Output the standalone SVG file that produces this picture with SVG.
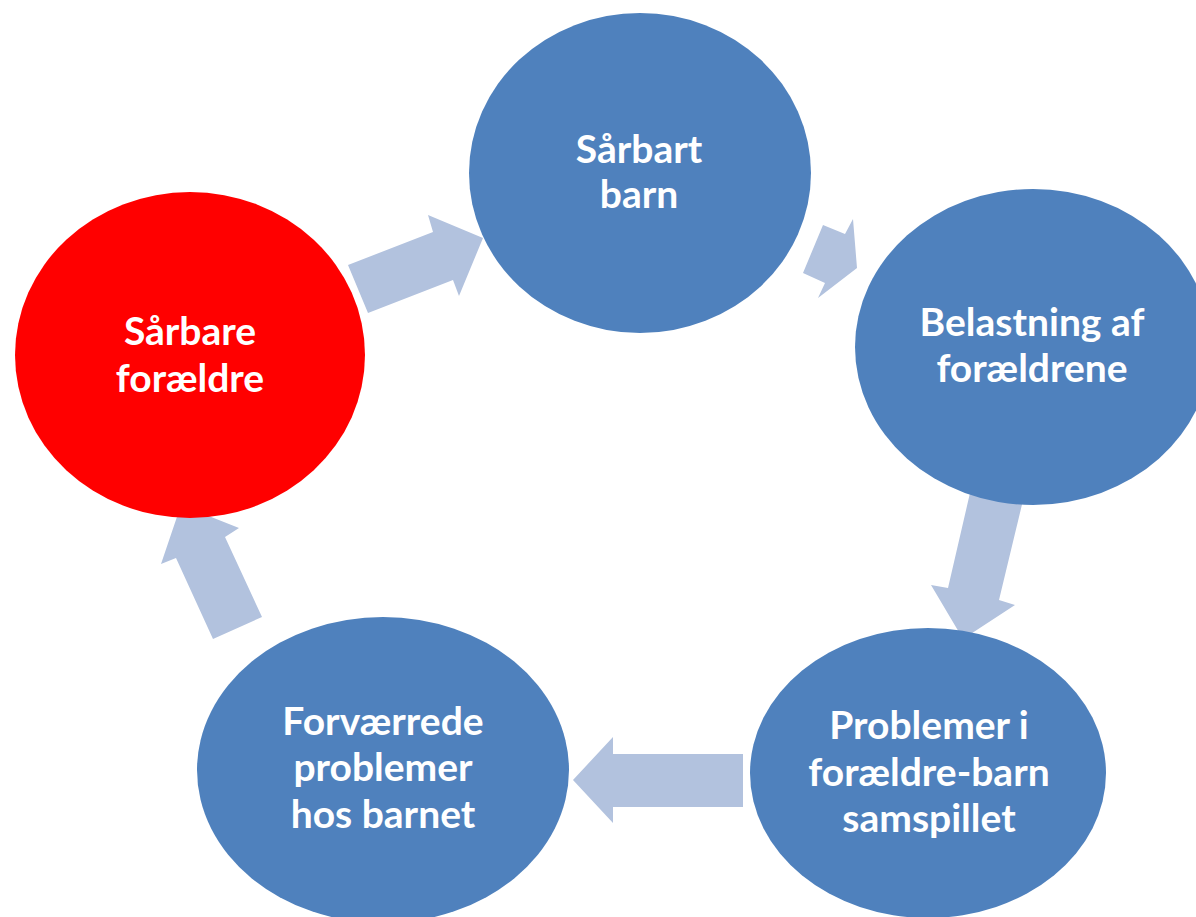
<svg xmlns="http://www.w3.org/2000/svg" width="1196" height="917" viewBox="0 0 1196 917">
<style>
.arrow{fill:#B2C2DE;stroke:none}
.node{fill:#4F81BD;stroke:none}
.red{fill:#FF0000}
.lbl{font-family:Lato,"Open Sans","Liberation Sans",sans-serif;font-weight:700;font-size:39px;fill:#FFFFFF;text-anchor:middle}
</style>
<rect width="1196" height="917" fill="#FFFFFF"/>
<g id="connectors">
<polygon class="arrow" points="348,265 433,232 428,215 483,238 459,296 453,280 368,313"/>
<polygon class="arrow" points="803,273 823,225 845,234 853,219 857,268 818,298 825,283"/>
<polygon class="arrow" points="973,480 1025,492 999,600 1015,605 963,639 931,585 948,588"/>
<polygon class="arrow" points="743,754 613,754 613,737 573,780 613,823 613,807 743,807"/>
<polygon class="arrow" points="213,639 176,558 161,564 181,505 239,528 225,537 262,617"/>
</g>
<g id="node-saarbare-foraeldre">
<ellipse class="node red" cx="190" cy="355" rx="175" ry="163"/>
<text class="lbl" x="190" y="345">Sårbare</text>
<text class="lbl" x="190" y="392">forældre</text>
</g>
<g id="node-saarbart-barn">
<ellipse class="node" cx="640" cy="173" rx="171" ry="160"/>
<text class="lbl" x="639" y="163">Sårbart</text>
<text class="lbl" x="639" y="208">barn</text>
</g>
<g id="node-belastning">
<ellipse class="node" cx="1033" cy="347" rx="178" ry="158"/>
<text class="lbl" x="1032" y="336">Belastning af</text>
<text class="lbl" x="1032" y="382">forældrene</text>
</g>
<g id="node-problemer">
<ellipse class="node" cx="928" cy="773" rx="178" ry="145"/>
<text class="lbl" x="929" y="739">Problemer i</text>
<text class="lbl" x="929" y="786">forældre-barn</text>
<text class="lbl" x="929" y="832">samspillet</text>
</g>
<g id="node-forvaerrede">
<ellipse class="node" cx="383" cy="770" rx="186" ry="153"/>
<text class="lbl" x="383" y="735">Forværrede</text>
<text class="lbl" x="383" y="781">problemer</text>
<text class="lbl" x="383" y="828">hos barnet</text>
</g>
</svg>
